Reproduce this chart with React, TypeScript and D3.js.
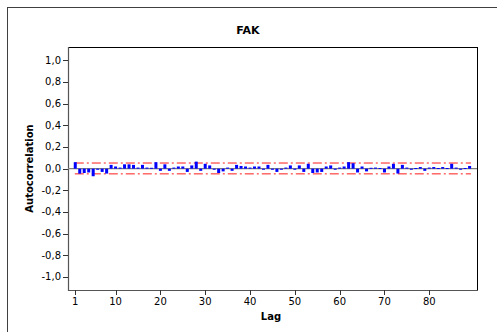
import React from "react";
import * as d3 from "d3";

const title = "FAK";
const xLabel = "Lag";
const yLabel = "Autocorrelation";
const yTicks = [1, 0.8, 0.6, 0.4, 0.2, 0, -0.2, -0.4, -0.6, -0.8, -1];
const xTicks = [1, 10, 20, 30, 40, 50, 60, 70, 80];
const acf = [
  0.06, -0.046, -0.04, -0.035, -0.07, -0.01, -0.03, -0.045, 0.035, 0.02,
  0.01, 0.04, 0.04, 0.035, 0.01, 0.035, 0.01, 0.008, 0.06, -0.02,
  0.04, -0.02, 0.01, 0.02, 0.02, -0.03, 0.03, 0.065, -0.02, 0.045,
  0.03, -0.01, -0.04, -0.025, 0.01, -0.02, 0.035, 0.025, 0.02, 0.01,
  0.02, 0.02, -0.01, 0.035, -0.01, -0.03, -0.01, 0.01, 0.03, -0.01,
  0.03, -0.03, 0.045, -0.04, -0.035, -0.03, 0.02, 0.03, -0.01, 0.01,
  0.02, 0.06, 0.05, -0.035, 0.02, -0.025, 0.008, 0.01, 0.006, -0.035,
  0.02, 0.045, -0.045, 0.035, 0.01, -0.01, 0.006, 0.015, -0.02, 0.01,
  0.015, 0.006, 0.015, 0.006, 0.045, 0.01, -0.01, 0.006, 0.025,
];
const upperLimit = [0.052];
const lowerLimit = [-0.048];

const W = 497;
const H = 332;
const plot = { left: 68, right: 477, top: 47, bottom: 290 };
const FONT = "'DejaVu Sans', sans-serif";

export default function App() {
  const lags = acf.map((_, i) => i + 1);
  const x = d3.scaleLinear().domain([-0.62, 90.65]).range([plot.left, plot.right]);
  const y = d3.scaleLinear().domain([-1.12, 1.123]).range([plot.bottom, plot.top]);
  const fmt = (v: number) => d3.format(".1f")(v).replace(".", ",").replace("−", "-");
  const barW = 3;

  return (
    <div style={{ position: "absolute", left: 0, top: 0 }}>
      <svg width={W} height={H} style={{ display: "block", background: "#fff" }}>
        <rect x={7.5} y={7.5} width={520} height={360} fill="#fff" stroke="#404040" strokeWidth={1} />
        <rect x={plot.left + 0.5} y={plot.top + 0.5} width={plot.right - plot.left} height={plot.bottom - plot.top} fill="#fff" stroke="#000" strokeWidth={1} />
        {/* axis lines */}
        <line x1={plot.left + 0.5} x2={plot.left + 0.5} y1={plot.top} y2={plot.bottom + 1} stroke="#555" strokeWidth={1.2} />
        <line x1={plot.left} x2={plot.right + 1} y1={plot.bottom + 0.5} y2={plot.bottom + 0.5} stroke="#555" strokeWidth={1.2} />
        {/* zero line */}
        <line x1={plot.left} x2={plot.right} y1={y(0)} y2={y(0)} stroke="#808080" strokeWidth={1.2} />
        {/* limits */}
        <line x1={x(0.9)} x2={x(89.3)} y1={y(upperLimit[0])} y2={y(upperLimit[0])} stroke="#ff1a1a" strokeWidth={1} strokeDasharray="9,3,2,3" />
        <line x1={x(0.9)} x2={x(89.3)} y1={y(lowerLimit[0])} y2={y(lowerLimit[0])} stroke="#ff1a1a" strokeWidth={1} strokeDasharray="9,3,2,3" />
        {/* bars */}
        {acf.map((v, i) => (
          <rect
            key={i}
            x={x(lags[i]) - barW / 2}
            y={Math.min(y(v), y(0))}
            width={barW}
            height={Math.max(1, Math.abs(y(v) - y(0)))}
            fill="#0000ff"
          />
        ))}
        {/* y ticks */}
        {yTicks.map((t) => (
          <g key={t}>
            <line x1={plot.left - 5} x2={plot.left} y1={Math.round(y(t)) + 0.5} y2={Math.round(y(t)) + 0.5} stroke="#333" />
            <text x={plot.left - 7} y={y(t)} dy="0.35em" textAnchor="end" fontFamily={FONT} fontSize={10} fill="#000">
              {fmt(t)}
            </text>
          </g>
        ))}
        {/* x ticks */}
        {xTicks.map((t) => (
          <g key={t}>
            <line x1={Math.round(x(t)) + 0.5} x2={Math.round(x(t)) + 0.5} y1={plot.bottom} y2={plot.bottom + 5} stroke="#333" />
            <text x={x(t)} y={305} textAnchor="middle" fontFamily={FONT} fontSize={10} fill="#000">
              {t}
            </text>
          </g>
        ))}
        <text x={248} y={34} textAnchor="middle" fontFamily={FONT} fontSize={11} fontWeight="bold">
          {title}
        </text>
        <text x={271} y={320} textAnchor="middle" fontFamily={FONT} fontSize={10} fontWeight="bold">
          {xLabel}
        </text>
        <text transform={`translate(33,${(plot.top + plot.bottom) / 2}) rotate(-90)`} textAnchor="middle" fontFamily={FONT} fontSize={10} fontWeight="bold">
          {yLabel}
        </text>
      </svg>
    </div>
  );
}
